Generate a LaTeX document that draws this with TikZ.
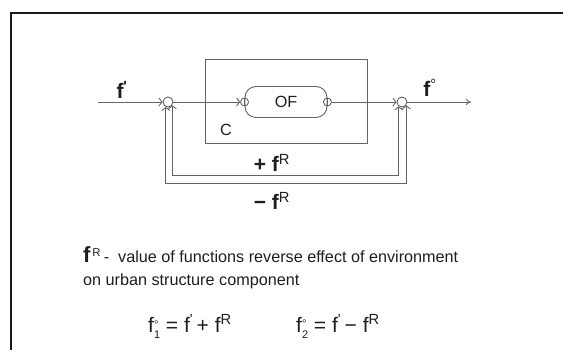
\documentclass[tikz,border=0pt]{standalone}
\usepackage{fontspec}
\setmainfont{Liberation Sans}
\usetikzlibrary{arrows.meta,calc}
\definecolor{ink}{RGB}{30,30,30}
\definecolor{wire}{RGB}{100,100,100}
\definecolor{frame}{RGB}{25,25,25}

\newcommand{\fprime}{f\textsuperscript{\textquotesingle}}
\newcommand{\fsupsub}[2]{f\raisebox{-0.6ex}{\fontsize{11}{9}\selectfont\shortstack[l]{#1\\#2}}}

\begin{document}
\begin{tikzpicture}[x=1pt,y=-1pt,text=ink,
  font=\fontsize{16.2}{18}\selectfont,
  sumpt/.style={circle,draw=wire,line width=0.9pt,inner sep=0pt,minimum size=10pt},
  port/.style={circle,draw=wire,line width=0.9pt,inner sep=0pt,minimum size=8pt,
    path picture={\draw[wire,line width=0.9pt] (path picture bounding box.north)
      -- (path picture bounding box.south);}},
  ofbox/.style={draw=wire,line width=0.9pt,rounded corners=11pt,
    minimum width=82pt,minimum height=31pt,inner sep=0pt},
  sig/.style={wire,line width=0.9pt,-{Straight Barb[length=3pt,width=8pt]}},
  fb/.style={wire,line width=0.9pt,
    {Straight Barb[length=3pt,width=8pt]}-{Straight Barb[length=3pt,width=8pt]}},
  lbl/.style={font=\fontsize{21}{21}\selectfont\bfseries},
  eqn/.style={anchor=base west,inner sep=0pt,font=\fontsize{21}{21}\selectfont}]
\useasboundingbox (0,0) rectangle (563,350);
\def\my{102}

% frame
\draw[frame,line width=1.4pt] (11,350) -- (11,13) -- (563,13);

% component C with operator OF
\draw[wire,line width=0.9pt] (205,59) rectangle (367,143);
\node (clab) at (226,130) {C};
\node[ofbox] (of) at (286,\my) {OF};
\node[port] (pin) at (of.west) {};
\node[port] (pout) at (of.east) {};

% summing points
\node[sumpt] (sl) at (168,\my) {};
\node[sumpt] (sr) at (402,\my) {};
\coordinate (in) at (98,\my);
\coordinate (out) at (471,\my);

\draw[sig] (in) -- (sl);
\draw[sig] (sl) -- (pin);
\draw[sig] (pout) -- (sr);
\draw[wire,line width=0.9pt,-{To[length=5pt,width=6pt]}] (sr) -- (out);

% feedback loops
\coordinate (ib) at (0,175);
\coordinate (ob) at (0,183);
\draw[fb] (sl.-37) -- (sl.-37 |- ib) -- (sr.-127 |- ib) -- (sr.-127);
\draw[fb] (sl.-114) -- (sl.-114 |- ob) -- (sr.-37 |- ob) -- (sr.-37);

\node[lbl] (fi) at (122,90) {\fprime};
\node[lbl] (fo) at (430,88) {f\textsuperscript{\mdseries°}};
\node[lbl] (fplus) at (272,163) {+ f\textsuperscript{\mdseries R}};
\node[lbl] (fminus) at (272,201) {− f\textsuperscript{\mdseries R}};

% legend
\node[anchor=base west,inner sep=0pt] (leg1) at (83,263)
  {{\fontsize{22}{22}\selectfont\bfseries f}\textsuperscript{\,R}\,-\ \ value of functions reverse effect of environment};
\node[anchor=base west,inner sep=0pt] (leg2) at (83,286) {on urban structure component};

% formulas
\node[eqn] (eq1) at (148,332) {\fsupsub{°}{1} = \fprime\,+ f\textsuperscript{R}};
\node[eqn] (eq2) at (296,332) {\fsupsub{°}{2} = \fprime\,− f\textsuperscript{R}};
\end{tikzpicture}
\end{document}
